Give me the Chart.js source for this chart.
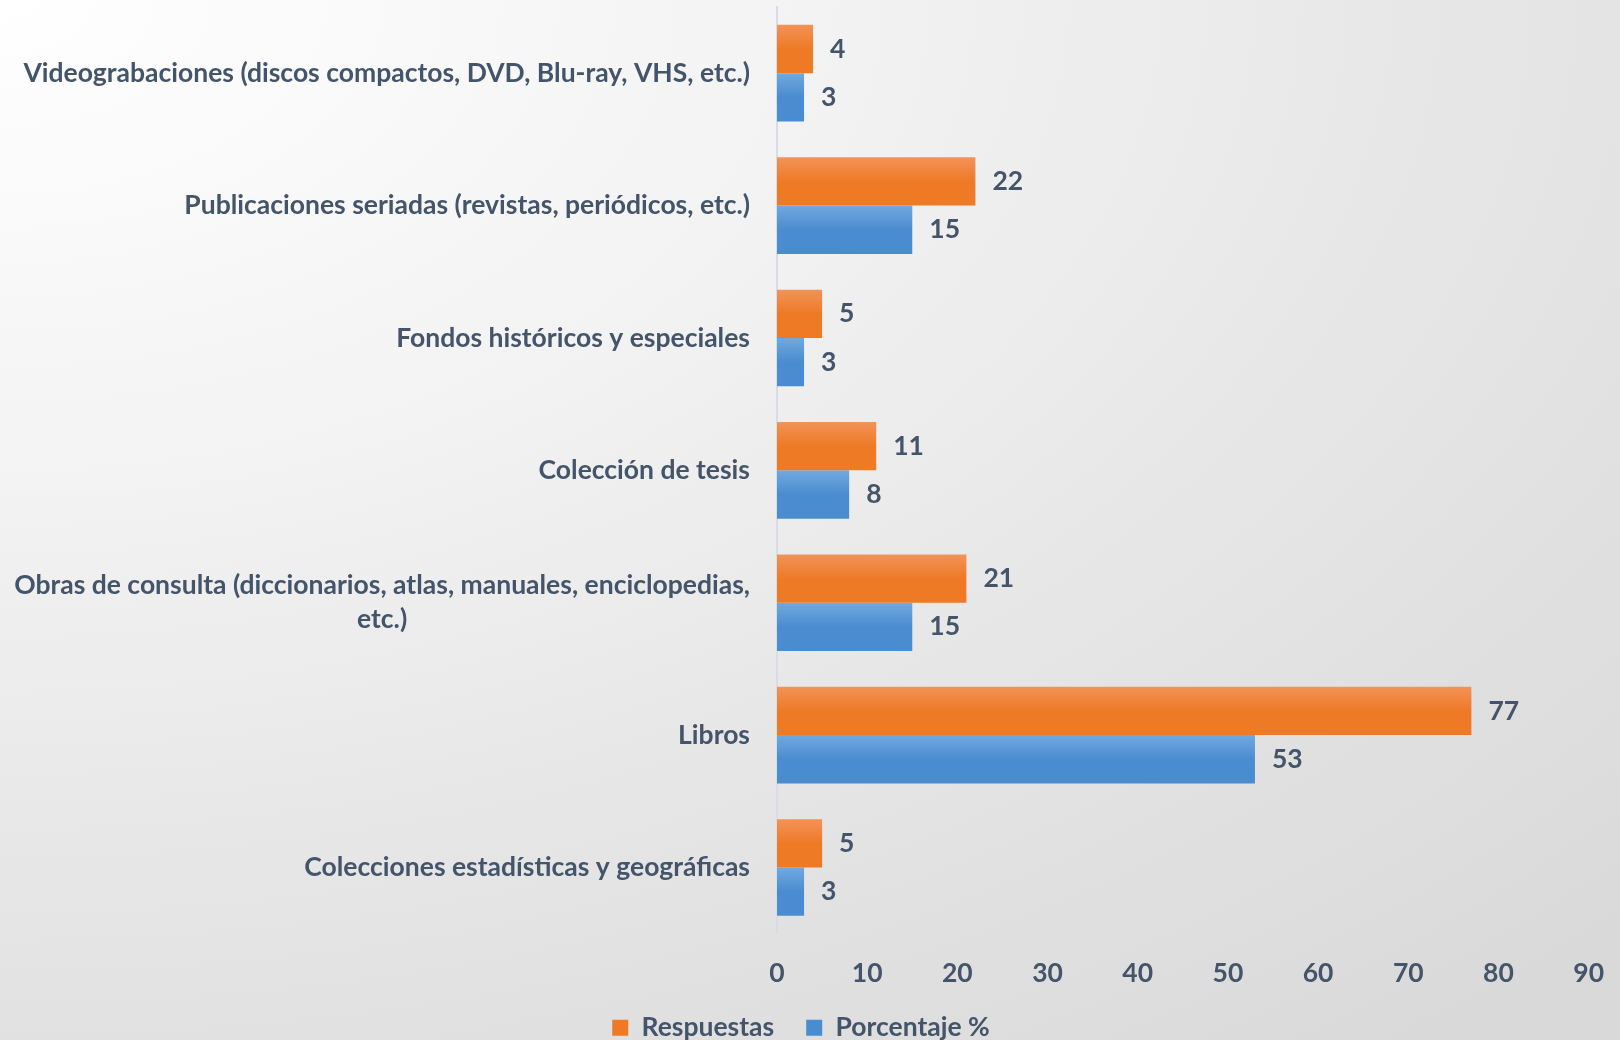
<!DOCTYPE html>
<html lang="es">
<head>
  <meta charset="UTF-8">
  <title>Colecciones</title>
  <script src="https://cdn.jsdelivr.net/npm/chart.js"></script>
  <style>
    html, body { margin: 0; padding: 0; }
    body {
      width: 1620px; height: 1040px; overflow: hidden;
      background: radial-gradient(ellipse 140% 130% at 0% 0%, #ffffff 0%, #f3f3f3 35%, #e4e4e4 70%, #d9d9d9 100%);
    }
    #wrap { position: relative; width: 1620px; height: 1040px; }
  </style>
</head>
<body>
  <div id="wrap"><canvas id="chart"></canvas></div>
  <script>
    // categorias, de arriba hacia abajo
    const categorias = [
      'Videograbaciones (discos compactos, DVD, Blu-ray, VHS, etc.)',
      'Publicaciones seriadas (revistas, periódicos, etc.)',
      'Fondos históricos y especiales',
      'Colección de tesis',
      ['Obras de consulta (diccionarios, atlas, manuales, enciclopedias,', 'etc.)'],
      'Libros',
      'Colecciones estadísticas y geográficas'
    ];
    const respuestas = [4, 22, 5, 11, 21, 77, 5];
    const porcentaje = [3, 15, 3, 8, 15, 53, 3];
    const ejeX = { min: 0, max: 90, paso: 10 };

    const textColor = '#44546A';
    const fontFamily = 'Lato, "Open Sans", sans-serif';
    const fontSize = 26.5;
    const groupPct = 0.73;

    // gradiente vertical dentro de cada barra
    function barGradient(top, bottom, slot) {
      return (ctx) => {
        const chart = ctx.chart;
        const y = chart.scales.y;
        if (!chart.chartArea || !y || ctx.type !== 'data') return bottom;
        const c = y.getPixelForValue(ctx.dataIndex);
        const h = (y.height / categorias.length) * groupPct / 2;
        const y0 = slot === 0 ? c - h : c;
        const g = chart.ctx.createLinearGradient(0, y0, 0, y0 + h);
        g.addColorStop(0, top);
        g.addColorStop(0.5, bottom);
        g.addColorStop(1, bottom);
        return g;
      };
    }

    const valueLabels = {
      id: 'valueLabels',
      afterDatasetsDraw(chart) {
        const ctx = chart.ctx;
        ctx.save();
        ctx.font = 'bold ' + fontSize + 'px ' + fontFamily;
        ctx.fillStyle = textColor;
        ctx.textAlign = 'left';
        ctx.textBaseline = 'middle';
        chart.data.datasets.forEach((ds, di) => {
          chart.getDatasetMeta(di).data.forEach((el, i) => {
            ctx.fillText(ds.data[i], el.x + 17, el.y);
          });
        });
        ctx.restore();
      }
    };

    // etiquetas de categoria: bloque alineado a la derecha, lineas centradas
    const catLabels = {
      id: 'catLabels',
      afterDraw(chart) {
        const ctx = chart.ctx;
        const y = chart.scales.y;
        const right = chart.chartArea.left - 27;
        const lineH = 34;
        ctx.save();
        ctx.font = 'bold ' + fontSize + 'px ' + fontFamily;
        ctx.fillStyle = textColor;
        ctx.textAlign = 'center';
        ctx.textBaseline = 'middle';
        categorias.forEach((lab, i) => {
          const lines = Array.isArray(lab) ? lab : [lab];
          const w = Math.max(...lines.map(l => ctx.measureText(l).width));
          const cx = right - w / 2;
          const c = y.getPixelForValue(i);
          lines.forEach((l, k) => {
            ctx.fillText(l, cx, c + (k - (lines.length - 1) / 2) * lineH);
          });
        });
        ctx.restore();
      }
    };

    // leyenda: ocupa menos alto en el layout, luego se amplia su caja hacia arriba
    const legendFit = {
      id: 'legendFit',
      beforeInit(chart) {
        const orig = chart.legend.fit;
        chart.legend.fit = function () {
          orig.call(this);
          this.height -= 34;
        };
      },
      afterLayout(chart) {
        const lg = chart.legend;
        lg.top -= 23;
        lg.height = lg.bottom - lg.top;
      }
    };

    new Chart(document.getElementById('chart'), {
      type: 'bar',
      data: {
        labels: categorias,
        datasets: [
          {
            label: 'Respuestas',
            data: respuestas,
            backgroundColor: barGradient('#F29358', '#EE7A26', 0),
            categoryPercentage: groupPct,
            barPercentage: 1.0
          },
          {
            label: 'Porcentaje %',
            data: porcentaje,
            backgroundColor: barGradient('#71A9DF', '#4A8CD0', 1),
            categoryPercentage: groupPct,
            barPercentage: 1.0
          }
        ]
      },
      options: {
        indexAxis: 'y',
        responsive: true,
        maintainAspectRatio: false,
        animation: false,
        layout: { padding: { top: 7, right: 18, bottom: 0, left: 0 } },
        scales: {
          x: {
            min: ejeX.min,
            max: ejeX.max,
            grid: { display: false },
            border: { display: false },
            ticks: {
              stepSize: ejeX.paso,
              padding: 16,
              color: textColor,
              font: { family: fontFamily, size: fontSize, weight: 'bold' }
            }
          },
          y: {
            grid: { display: false },
            border: { display: true, color: '#D9DDE3', width: 2 },
            ticks: { display: false },
            afterFit(scale) { scale.width = 777; }
          }
        },
        plugins: {
          legend: {
            position: 'bottom',
            labels: {
              boxWidth: 16,
              boxHeight: 16,
              padding: 32,
              color: textColor,
              font: { family: fontFamily, size: fontSize, weight: 'bold' },
              generateLabels(chart) {
                const cols = ['#EE7A26', '#4A8CD0'];
                return chart.data.datasets.map((ds, i) => ({
                  text: ds.label,
                  fillStyle: cols[i],
                  strokeStyle: cols[i],
                  lineWidth: 0,
                  fontColor: textColor,
                  datasetIndex: i
                }));
              }
            }
          },
          tooltip: { enabled: false }
        }
      },
      plugins: [legendFit, valueLabels, catLabels]
    });
  </script>
</body>
</html>
